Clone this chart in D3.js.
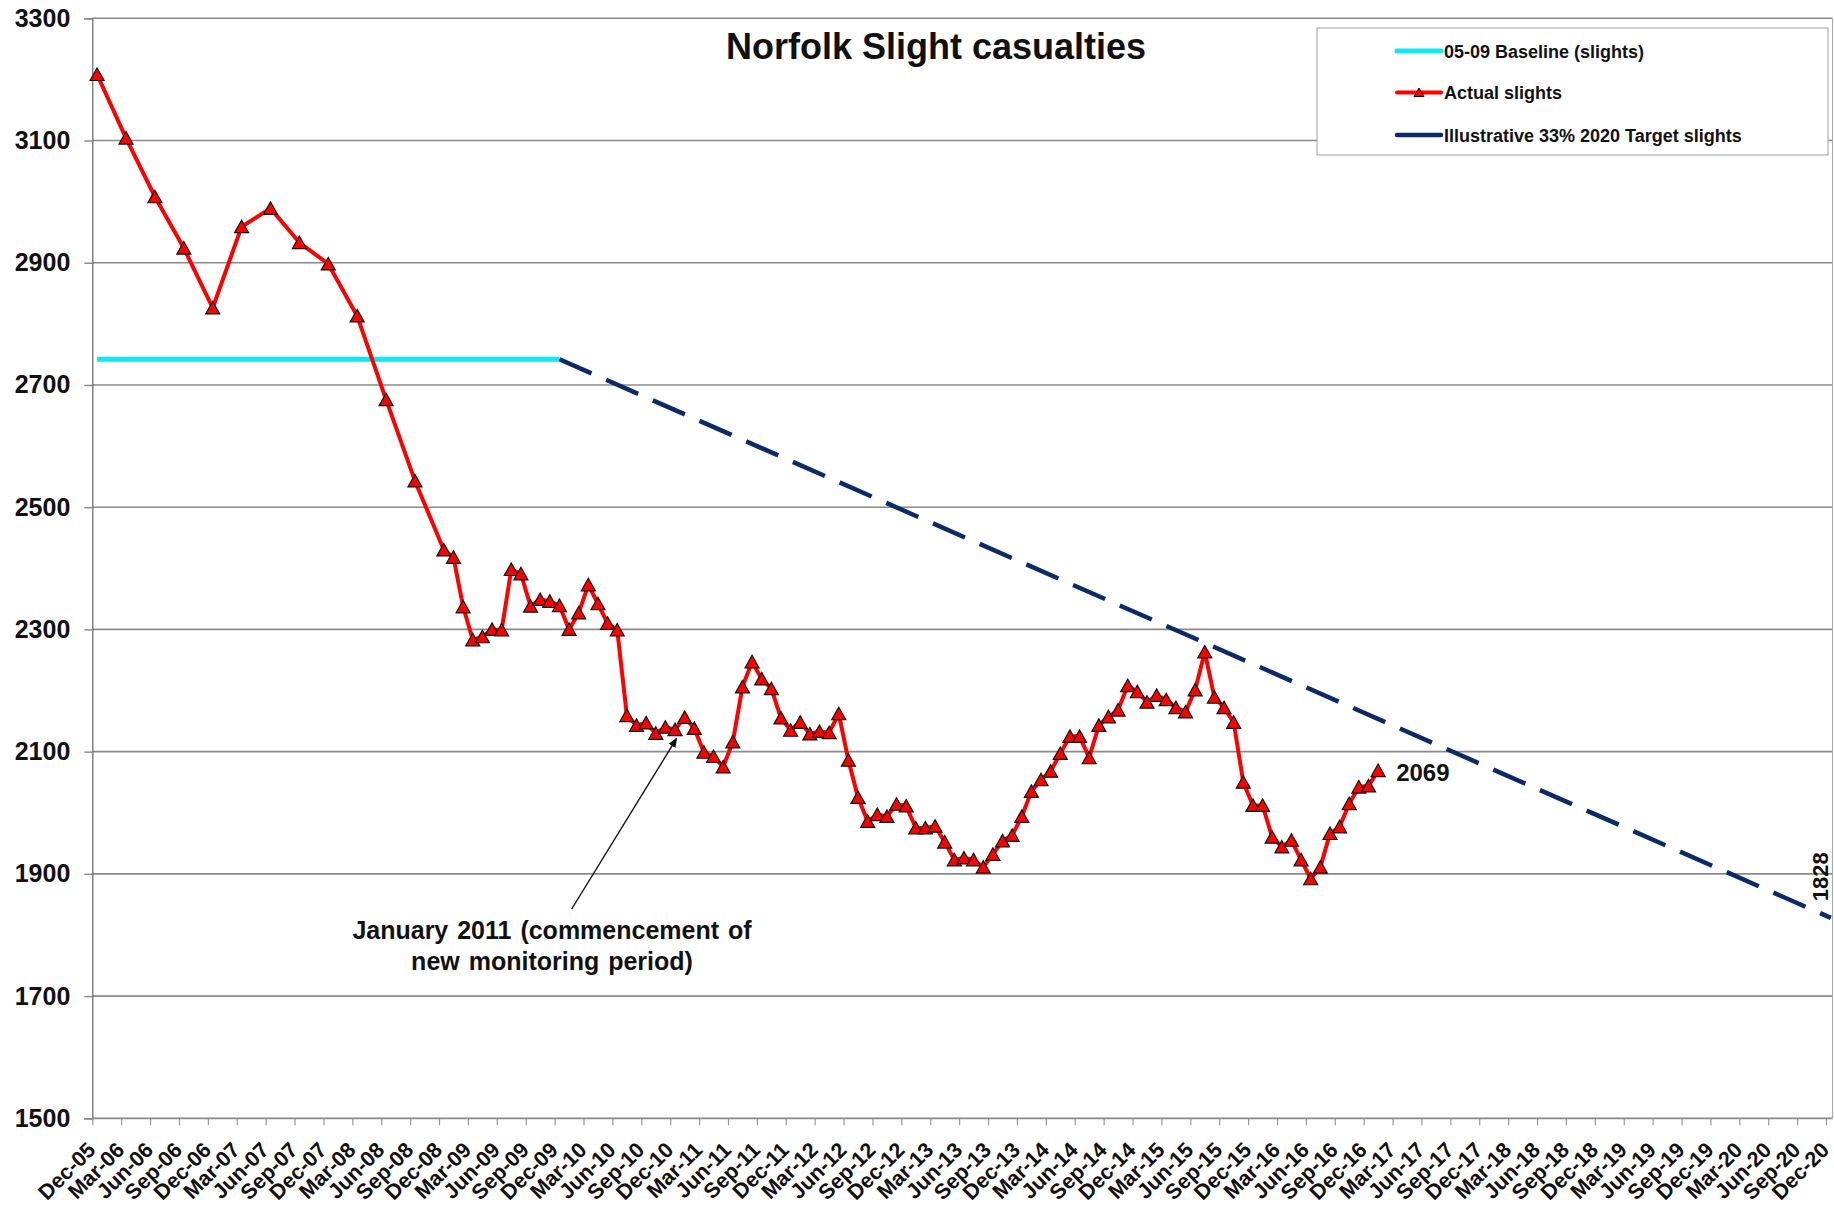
<!DOCTYPE html>
<html>
<head>
<meta charset="utf-8">
<script src="https://cdn.jsdelivr.net/npm/d3@7"></script>
<style>
  body { margin: 0; background: #fff; }
  svg { display: block; font-family: "Liberation Sans", Arial, sans-serif; }
</style>
</head>
<body>
<svg width="1834" height="1205"></svg>
<script>
var width = 1834;
var height = 1205;

// actual slights (rolling figures), quarterly first then monthly
var actualDates = ['Dec-05','Mar-06','Jun-06','Sep-06','Dec-06','Mar-07','Jun-07','Sep-07','Dec-07','Mar-08','Jun-08','Sep-08',
    'Dec-08','Jan-09','Feb-09','Mar-09','Apr-09','May-09','Jun-09','Jul-09','Aug-09','Sep-09','Oct-09','Nov-09',
    'Dec-09','Jan-10','Feb-10','Mar-10','Apr-10','May-10','Jun-10','Jul-10','Aug-10','Sep-10','Oct-10','Nov-10',
    'Dec-10','Jan-11','Feb-11','Mar-11','Apr-11','May-11','Jun-11','Jul-11','Aug-11','Sep-11','Oct-11','Nov-11',
    'Dec-11','Jan-12','Feb-12','Mar-12','Apr-12','May-12','Jun-12','Jul-12','Aug-12','Sep-12','Oct-12','Nov-12',
    'Dec-12','Jan-13','Feb-13','Mar-13','Apr-13','May-13','Jun-13','Jul-13','Aug-13','Sep-13','Oct-13','Nov-13',
    'Dec-13','Jan-14','Feb-14','Mar-14','Apr-14','May-14','Jun-14','Jul-14','Aug-14','Sep-14','Oct-14','Nov-14',
    'Dec-14','Jan-15','Feb-15','Mar-15','Apr-15','May-15','Jun-15','Jul-15','Aug-15','Sep-15','Oct-15','Nov-15',
    'Dec-15','Jan-16','Feb-16','Mar-16','Apr-16','May-16','Jun-16','Jul-16','Aug-16','Sep-16','Oct-16','Nov-16',
    'Dec-16','Jan-17'];
var actualValues = [3208,3104,3008,2924,2826,2959,2989,2933,2898,2813,2676,2543,
    2430,2418,2337,2283,2288,2300,2299,2398,2391,2338,2349,2346,
    2339,2300,2327,2373,2342,2310,2299,2159,2143,2147,2130,2140,
    2136,2156,2138,2099,2092,2075,2116,2206,2247,2219,2203,2155,
    2135,2148,2129,2133,2131,2162,2086,2025,1986,1997,1994,2014,
    2011,1975,1975,1978,1952,1923,1926,1923,1911,1932,1954,1963,
    1994,2035,2054,2068,2097,2125,2125,2090,2143,2157,2168,2208,
    2198,2181,2192,2185,2172,2165,2201,2263,2189,2172,2148,2050,
    2012,2012,1960,1944,1955,1923,1892,1911,1966,1977,2015,2042,
    2044,2069];

var baselineDates = ['Dec-05','Dec-09'];
var baselineValues = [2742, 2742];

var targetDates = ['Dec-09','Dec-20'];
var targetValues = [2742, 1828];

var xTickLabels = ['Dec-05','Mar-06','Jun-06','Sep-06','Dec-06','Mar-07','Jun-07','Sep-07','Dec-07','Mar-08','Jun-08','Sep-08',
    'Dec-08','Mar-09','Jun-09','Sep-09','Dec-09','Mar-10','Jun-10','Sep-10','Dec-10','Mar-11','Jun-11','Sep-11',
    'Dec-11','Mar-12','Jun-12','Sep-12','Dec-12','Mar-13','Jun-13','Sep-13','Dec-13','Mar-14','Jun-14','Sep-14',
    'Dec-14','Mar-15','Jun-15','Sep-15','Dec-15','Mar-16','Jun-16','Sep-16','Dec-16','Mar-17','Jun-17','Sep-17',
    'Dec-17','Mar-18','Jun-18','Sep-18','Dec-18','Mar-19','Jun-19','Sep-19','Dec-19','Mar-20','Jun-20','Sep-20','Dec-20'];
var yTicks = [1500,1700,1900,2100,2300,2500,2700,2900,3100,3300];

var monthNames = ['Jan','Feb','Mar','Apr','May','Jun','Jul','Aug','Sep','Oct','Nov','Dec'];

// months since Dec-05
function monthIndex(label){
    var parts = label.split('-');
    return (2000 + (+parts[1]) - 2005) * 12 + monthNames.indexOf(parts[0]) - 11;
}

var plotLeft = 92.3, plotRight = 1832.5, plotTop = 18.3, plotBottom = 1118.3;

var x = d3.scaleLinear().domain([0, 180]).range([92.3, 1826]);
var y = d3.scaleLinear().domain([1500, 3300]).range([plotBottom, plotTop]);

function px(label){ return x(monthIndex(label) + 0.5); }

var svg = d3.select('svg');
svg.append('rect').attr('width', width).attr('height', height).attr('fill', '#fff');

// gridlines
svg.append('g').selectAll('line')
    .data(yTicks.filter(function(d){ return d > 1500; }))
    .enter().append('line')
    .attr('x1', plotLeft).attr('x2', plotRight)
    .attr('y1', function(d){ return y(d); }).attr('y2', function(d){ return y(d); })
    .attr('stroke', '#8a8a8a').attr('stroke-width', 1.6);

// right border
svg.append('line')
    .attr('x1', plotRight).attr('x2', plotRight).attr('y1', plotTop).attr('y2', plotBottom)
    .attr('stroke', '#aaa').attr('stroke-width', 1);

// y axis
var yAxis = svg.append('g')
    .attr('transform', 'translate(' + plotLeft + ',0)')
    .call(d3.axisLeft(y).tickValues(yTicks).tickSize(8).tickPadding(14).tickFormat(d3.format('d')));
yAxis.select('.domain').attr('stroke', '#666').attr('stroke-width', 1.2);
yAxis.selectAll('.tick line').attr('stroke', '#888').attr('stroke-width', 1.4);
yAxis.selectAll('text')
    .attr('font-size', 25).attr('font-weight', 'bold').attr('fill', '#111')
    .attr('font-family', '"Liberation Sans", Arial, sans-serif');

// x axis
var xAxis = svg.append('g')
    .attr('transform', 'translate(0,' + plotBottom + ')')
    .call(d3.axisBottom(x)
        .tickValues(xTickLabels.map(monthIndex))
        .tickSize(7)
        .tickFormat(function(d, i){ return xTickLabels[i]; }));
xAxis.select('.domain').remove();
xAxis.append('line').attr('x1', plotLeft).attr('x2', plotRight)
    .attr('stroke', '#888').attr('stroke-width', 1.8);
xAxis.selectAll('.tick line').attr('stroke', '#999').attr('stroke-width', 1.2);
xAxis.selectAll('.tick text')
    .attr('x', 0).attr('y', 0).attr('dy', 0)
    .attr('transform', 'translate(4,33) rotate(-45)')
    .attr('text-anchor', 'end')
    .attr('font-size', 21.5).attr('font-weight', 'bold').attr('fill', '#111')
    .attr('font-family', '"Liberation Sans", Arial, sans-serif');

// baseline
var line = d3.line()
    .x(function(d){ return px(d[0]); })
    .y(function(d){ return y(d[1]); });

svg.append('path')
    .datum(d3.zip(baselineDates, baselineValues))
    .attr('d', line)
    .attr('fill', 'none').attr('stroke', '#14e6ee').attr('stroke-width', 5);

// target
svg.append('path')
    .datum(d3.zip(targetDates, targetValues))
    .attr('d', line)
    .attr('fill', 'none').attr('stroke', '#0b2a66').attr('stroke-width', 4.5)
    .attr('stroke-dasharray', '35,16');

// actual
var actual = d3.zip(actualDates, actualValues);
svg.append('path')
    .datum(actual)
    .attr('d', line)
    .attr('fill', 'none').attr('stroke', '#ff0000').attr('stroke-width', 4)
    .attr('stroke-linejoin', 'round');

var tri = 'M0,-6.5L7,6L-7,6Z';
svg.append('g').selectAll('path')
    .data(actual)
    .enter().append('path')
    .attr('d', tri)
    .attr('transform', function(d){ return 'translate(' + px(d[0]) + ',' + y(d[1]) + ')'; })
    .attr('fill', '#ff0000').attr('stroke', '#111').attr('stroke-width', 1.2);

// data labels
var last = actual[actual.length - 1];
svg.append('text')
    .attr('x', px(last[0]) + 18).attr('y', y(last[1]) + 10)
    .attr('font-size', 24).attr('font-weight', 'bold').attr('fill', '#111')
    .text(last[1]);

var tEnd = targetValues[targetValues.length - 1];
svg.append('text')
    .attr('transform', 'translate(1828,' + (y(tEnd) - 41) + ') rotate(-90)')
    .attr('text-anchor', 'middle')
    .attr('font-size', 22).attr('font-weight', 'bold').attr('fill', '#111')
    .text(tEnd);

// title
svg.append('text')
    .attr('x', 936).attr('y', 59)
    .attr('text-anchor', 'middle')
    .attr('font-size', 36).attr('font-weight', 'bold').attr('fill', '#111')
    .text('Norfolk Slight casualties');

// annotation
var jan11 = actual[actualDates.indexOf('Jan-11')];
var tipX = px(jan11[0]) - 8, tipY = y(jan11[1]) + 21;
svg.append('defs').append('marker')
    .attr('id', 'arrow').attr('viewBox', '0 0 10 10')
    .attr('refX', 9).attr('refY', 5)
    .attr('markerWidth', 7).attr('markerHeight', 7)
    .attr('orient', 'auto')
    .append('path').attr('d', 'M0,1L10,5L0,9Z').attr('fill', '#111');
svg.append('line')
    .attr('x1', 571.7).attr('y1', 909).attr('x2', tipX).attr('y2', tipY)
    .attr('stroke', '#111').attr('stroke-width', 1.4)
    .attr('marker-end', 'url(#arrow)');

var note = svg.append('text')
    .attr('text-anchor', 'middle')
    .attr('font-size', 25).attr('font-weight', 'bold').attr('fill', '#111')
    .attr('word-spacing', 2);
note.append('tspan').attr('x', 552).attr('y', 939).text('January 2011 (commencement of');
note.append('tspan').attr('x', 552).attr('y', 970).text('new monitoring period)');

// legend
var legend = svg.append('g');
legend.append('rect')
    .attr('x', 1317).attr('y', 28).attr('width', 511).attr('height', 127)
    .attr('fill', '#fff').attr('stroke', '#b0b0b0').attr('stroke-width', 1.2);

var legendItems = [
    {name: '05-09 Baseline (slights)', color: '#14e6ee', w: 5, marker: false, y: 51},
    {name: 'Actual slights', color: '#ff0000', w: 4, marker: true, y: 92.5},
    {name: 'Illustrative 33% 2020 Target slights', color: '#0b2a66', w: 4.5, marker: false, y: 135}
];
legendItems.forEach(function(it){
    legend.append('line')
        .attr('x1', 1397).attr('x2', 1441).attr('y1', it.y).attr('y2', it.y)
        .attr('stroke', it.color).attr('stroke-width', it.w).attr('stroke-linecap', 'round');
    if(it.marker){
        legend.append('path').attr('d', 'M0,-4.5L5,4L-5,4Z')
            .attr('transform', 'translate(1419,' + it.y + ')')
            .attr('fill', '#ff0000').attr('stroke', '#111').attr('stroke-width', 1);
    }
    legend.append('text')
        .attr('x', 1444).attr('y', it.y + 6.5)
        .attr('font-size', 18).attr('font-weight', 'bold').attr('fill', '#111')
        .text(it.name);
});
</script>
</body>
</html>
